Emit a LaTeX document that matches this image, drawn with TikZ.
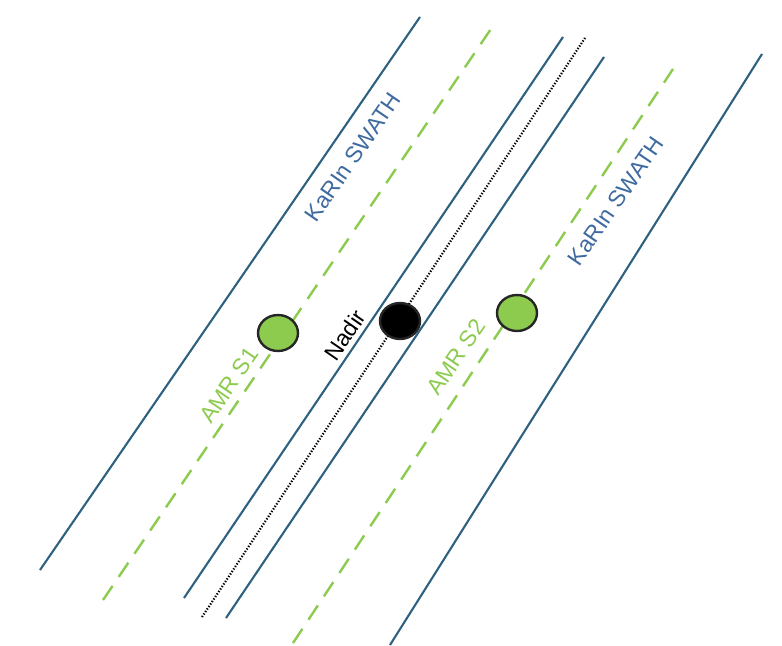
\documentclass[tikz,border=0pt]{standalone}
\usepackage{fontspec}
\setmainfont{Liberation Sans}
\usepackage{xcolor}
\usetikzlibrary{positioning,calc,shapes.geometric}

\definecolor{swathline}{RGB}{46,96,128}
\definecolor{swathtext}{RGB}{62,106,160}
\definecolor{amrgreen}{RGB}{140,203,78}

\tikzset{
    swath/.style={draw=swathline, line width=2.1bp},
    amrtrack/.style={draw=amrgreen, line width=2.4bp, dash pattern=on 17bp off 11bp},
    nadirtrack/.style={draw=black, line width=2.2bp, dash pattern=on 1.3bp off 1.7bp},
    beam/.style={ellipse, draw=black!85, line width=2.4bp, minimum width=40bp, minimum height=36bp, inner sep=0pt},
    lbl/.style={font=\fontsize{23}{27}\selectfont, rotate=55.5, inner sep=0pt}
}

\begin{document}
\begin{tikzpicture}[x=1bp, y=-1bp]
    \useasboundingbox (0,0) rectangle (782,646);

    % swath edges
    \draw[swath] (40,570) -- (420,17);
    \draw[swath] (184,598) -- (563,37);
    \draw[swath] (226,618) -- (604,57);
    \draw[swath] (390,645) -- (762,54);

    % radiometer tracks and nadir
    \draw[amrtrack] (103,600) -- (495,23);
    \draw[amrtrack] (293,643) -- (673,69);
    \draw[nadirtrack] (202,617) -- (585,38);

    % footprints
    \node[beam, fill=amrgreen] (s1) at (278,333) {};
    \node[beam, fill=black] (nadir) at (400,321) {};
    \node[beam, fill=amrgreen] (s2) at (517,313) {};

    % labels
    \node[lbl, text=swathtext] (swathL) at (353,157) {KaRIn SWATH};
    \node[lbl, text=swathtext] (swathR) at (616,201) {KaRIn SWATH};
    \node[lbl, text=amrgreen] (lblS1) at (229,385) {AMR S1};
    \node[lbl, text=black] (lblNadir) at (345,335) {Nadir};
    \node[lbl, text=amrgreen] (lblS2) at (456,357) {AMR S2};
\end{tikzpicture}
\end{document}
